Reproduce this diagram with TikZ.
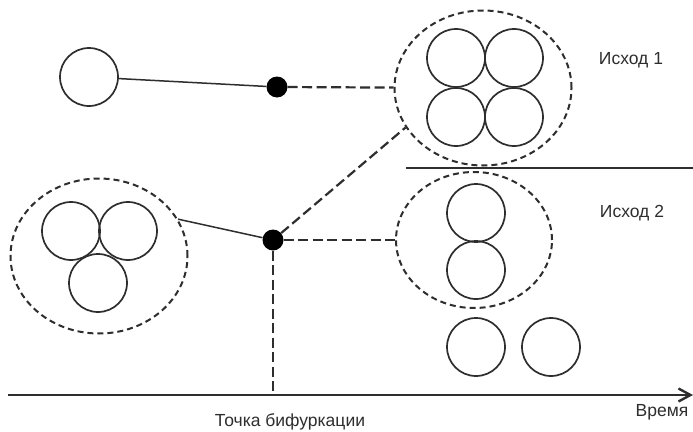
\documentclass[tikz,border=0pt]{standalone}
\usepackage{fontspec}
\setmainfont{Liberation Sans}
\usetikzlibrary{shapes.geometric,arrows.meta}
\definecolor{ink}{HTML}{2E2E2E}
\begin{document}
\begin{tikzpicture}[x=1pt,y=-1pt,
  ball/.style={circle,draw=ink,line width=1.7pt,minimum size=58pt,inner sep=0pt},
  group/.style={ellipse,draw=ink,line width=2pt,dash pattern=on 6pt off 4pt,minimum width=177pt,minimum height=155pt,inner sep=0pt},
  group2/.style={ellipse,draw=ink,line width=2pt,dash pattern=on 6pt off 4pt,minimum width=156pt,minimum height=136pt,inner sep=0pt},
  dot/.style={circle,fill=black,minimum size=21pt,inner sep=0pt},
  solidline/.style={draw=ink,line width=1.5pt},
  dashline/.style={draw=ink,line width=2.2pt,dash pattern=on 10pt off 4.5pt},
  lbl/.style={font=\fontsize{17.5}{20}\selectfont,text=ink,inner sep=0pt}]
\useasboundingbox (0,0) rectangle (693,431);
\fill[white] (0,0) rectangle (693,431);
% top branch
\node[ball] (c1) at (89,77) {};
\node[dot] (d1) at (277,87) {};
\node[group] (e1) at (483,88) {};
\node[ball] (q1) at (456,58) {};
\node[ball] (q2) at (514,58) {};
\node[ball] (q3) at (456,117) {};
\node[ball] (q4) at (514,117) {};
% left group
\node[group] (e3) at (99,256) {};
\node[ball] (t1) at (71,231) {};
\node[ball] (t2) at (128,231) {};
\node[ball] (t3) at (98,283) {};
% bottom branch
\node[dot] (d2) at (273,240) {};
\node[group2] (e2) at (474,240) {};
\node[ball] (p1) at (476,213) {};
\node[ball] (p2) at (476,270) {};
\node[ball] (s1) at (476,347) {};
\node[ball] (s2) at (551,347) {};
% separator and axis
\coordinate (h0) at (406,168);
\coordinate (h1) at (693,168);
\coordinate (a0) at (8,395);
\coordinate (a1) at (693,395);
\coordinate (a2) at (273,395);
\draw[draw=ink,line width=1.8pt] (h0) -- (h1);
\draw[draw=ink,line width=2.4pt,-{Straight Barb[length=12pt,width=13pt,line width=2.4pt]}] (a0) -- (a1);
% connectors
\draw[solidline] (c1) -- (d1);
\draw[solidline] (e3.25) -- (d2);
\draw[dashline] (d1) -- (e1);
\draw[dashline] (d2) -- (e2);
\draw[dashline] (d2) -- (e1.207);
\draw[dashline] (d2) -- (a2);
% labels
\node[lbl] (l1) at (631,60) {Исход 1};
\node[lbl] (l2) at (632,213) {Исход 2};
\node[lbl] (l3) at (290,422) {Точка бифуркации};
\node[lbl] (l4) at (662,412) {Время};
\end{tikzpicture}
\end{document}
